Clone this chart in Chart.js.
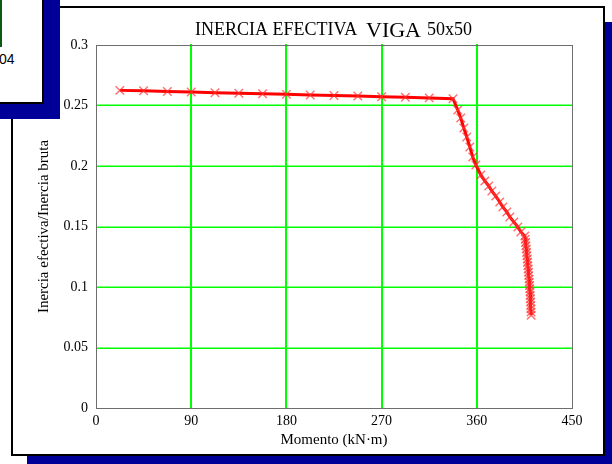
<!DOCTYPE html>
<html>
<head>
<meta charset="utf-8">
<script src="https://cdn.jsdelivr.net/npm/chart.js@4.4.1/dist/chart.umd.min.js"></script>
<style>
  html, body { margin: 0; padding: 0; background: #ffffff; }
  #stage { position: relative; width: 612px; height: 464px; overflow: hidden; background: #ffffff; }
  .shadow { position: absolute; background: #000099; }
  .panel { position: absolute; background: #ffffff; border: 2px solid #000000; box-sizing: border-box; }
  #chart { position: absolute; left: 0; top: 0; }
  #tag { position: absolute; left: -1px; top: 51px; font: 14px "Liberation Sans", Arial, sans-serif; color: #000; }
  #tagLine { position: absolute; left: 0; top: 0; width: 2px; height: 47px; background: #0b5a12; }
</style>
</head>
<body>
<div id="stage">
  <div class="shadow" style="left:27px; top:22px; width:600px; height:460px;"></div>
  <div class="panel" style="left:11px; top:6px; width:594px; height:450px;"></div>
  <canvas id="chart" width="612" height="464"></canvas>
  <div class="shadow" style="left:-4px; top:-4px; width:64px; height:123px;"></div>
  <div class="panel" style="left:-20px; top:-20px; width:64px; height:124px;"></div>
  <div id="tagLine"></div>
  <div id="tag">04</div>
</div>
<script>
// Bending moment (kN·m) and effective / gross inertia ratio for the 50x50 beam
const momento = [
  22.5, 45, 67.5, 90, 112.5, 135, 157.5, 180, 202.5, 225, 247.5, 270, 292.5, 315, 337.5,
  342.0, 344.8, 347.7, 350.5, 353.4, 356.2, 359.1,
  363.8, 367.6, 371.3, 374.2, 377.9, 381.7, 384.6, 388.4, 391.2, 395.0, 398.8, 401.6, 405.4,
  405.8, 406.1, 406.5, 406.8, 407.1, 407.4, 407.8, 408.0, 408.3, 408.6, 408.9, 409.1, 409.4,
  409.6, 409.9, 410.1, 410.3, 410.5, 410.7, 410.9, 411.0, 411.2, 411.3, 411.4
];
const inercia = [
  0.2625, 0.2621, 0.2616, 0.2611, 0.2606, 0.2601, 0.2597, 0.2592, 0.2587, 0.2582, 0.2578, 0.2573, 0.2568, 0.2563, 0.2556,
  0.2463, 0.2397, 0.2314, 0.2240, 0.2157, 0.2074, 0.2008,
  0.1926, 0.1876, 0.1835, 0.1793, 0.1752, 0.1702, 0.1661, 0.1620, 0.1579, 0.1537, 0.1496, 0.1455, 0.1421,
  0.1394, 0.1367, 0.1341, 0.1313, 0.1286, 0.1258, 0.1231, 0.1204, 0.1176, 0.1149, 0.1122, 0.1094, 0.1067,
  0.1040, 0.1012, 0.0985, 0.0958, 0.0930, 0.0903, 0.0876, 0.0848, 0.0821, 0.0794, 0.0766
];
const xTicks = [0, 90, 180, 270, 360, 450];
const yTicks = [0, 0.05, 0.1, 0.15, 0.2, 0.25, 0.3];
const yLabels = ['0', '0.05', '0.1', '0.15', '0.2', '0.25', '0.3'];
const titleParts = [
  { text: 'INERCIA EFECTIVA', size: 18, x: 195, y: 35 },
  { text: 'VIGA', size: 22, x: 366, y: 37 },
  { text: '50x50', size: 18, x: 427, y: 35 }
];
const xTitle = 'Momento (kN\u00B7m)';
const yTitle = 'Inercia efectiva/Inercia bruta';

const SERIF = '"Liberation Serif", "Times New Roman", serif';

// Green grid at the interior ticks plus the grey plot frame, drawn on whole pixels
const frame = {
  id: 'frame',
  beforeDatasetsDraw(chart) {
    const { ctx, chartArea: a, scales } = chart;
    const L = Math.round(a.left), R = Math.round(a.right);
    const T = Math.round(a.top), B = Math.round(a.bottom);
    ctx.save();
    ctx.strokeStyle = '#00ff00';
    ctx.lineWidth = 2;
    ctx.beginPath();
    xTicks.slice(1, -1).forEach(v => {
      const px = Math.round(scales.x.getPixelForValue(v));
      ctx.moveTo(px, T - 1); ctx.lineTo(px, B);
    });
    ctx.stroke();
    ctx.lineWidth = 1.5;
    ctx.beginPath();
    yTicks.slice(1, -1).forEach(v => {
      const py = Math.round(scales.y.getPixelForValue(v)) + 0.25;
      ctx.moveTo(L, py); ctx.lineTo(R, py);
    });
    ctx.stroke();
    ctx.lineWidth = 1;
    ctx.strokeStyle = '#6e6e6e';
    ctx.strokeRect(L + 0.5, T + 0.5, R - L, B - T);
    ctx.restore();
  },
  afterDraw(chart) {
    const { ctx, chartArea: a } = chart;
    ctx.save();
    ctx.fillStyle = '#000';
    ctx.textBaseline = 'alphabetic';
    ctx.textAlign = 'left';
    titleParts.forEach(p => {
      ctx.font = p.size + 'px ' + SERIF;
      ctx.fillText(p.text, p.x, p.y);
    });
    ctx.font = '15px ' + SERIF;
    ctx.textAlign = 'center';
    ctx.textBaseline = 'middle';
    ctx.fillText(xTitle, (a.left + a.right) / 2, 440);
    ctx.translate(44, (a.top + a.bottom) / 2);
    ctx.rotate(-Math.PI / 2);
    ctx.fillText(yTitle, 0, 0);
    ctx.restore();
  }
};

new Chart(document.getElementById('chart'), {
  type: 'scatter',
  data: {
    datasets: [{
      data: momento.map((m, i) => ({ x: m, y: inercia[i] })),
      showLine: true,
      borderColor: '#ff0000',
      borderWidth: 3,
      pointStyle: 'crossRot',
      pointRadius: 6,
      pointBorderWidth: 1.4,
      pointBorderColor: 'rgba(255,50,50,0.7)',
      pointBackgroundColor: 'rgba(255,50,50,0.7)',
      tension: 0
    }]
  },
  options: {
    responsive: false,
    animation: false,
    events: [],
    layout: { padding: { top: 45, right: 40, left: 0, bottom: 0 } },
    plugins: { legend: { display: false }, title: { display: false }, tooltip: { enabled: false } },
    scales: {
      x: {
        type: 'linear', min: 0, max: 450,
        afterBuildTicks: s => { s.ticks = xTicks.map(v => ({ value: v })); },
        afterFit: s => { s.height = 56; },
        grid: { display: false, drawTicks: false, tickLength: 0 },
        border: { display: false },
        ticks: { color: '#000', font: { family: SERIF, size: 14 }, padding: 5, maxRotation: 0, autoSkip: false }
      },
      y: {
        type: 'linear', min: 0, max: 0.3,
        afterBuildTicks: s => { s.ticks = yTicks.map(v => ({ value: v })); },
        afterFit: s => { s.width = 96; },
        grid: { display: false, drawTicks: false, tickLength: 0 },
        border: { display: false },
        ticks: {
          color: '#000', font: { family: SERIF, size: 14 }, padding: 8, autoSkip: false,
          callback: (v) => { const i = yTicks.indexOf(v); return i >= 0 ? yLabels[i] : ''; }
        }
      }
    }
  },
  plugins: [frame]
});
</script>
</body>
</html>
